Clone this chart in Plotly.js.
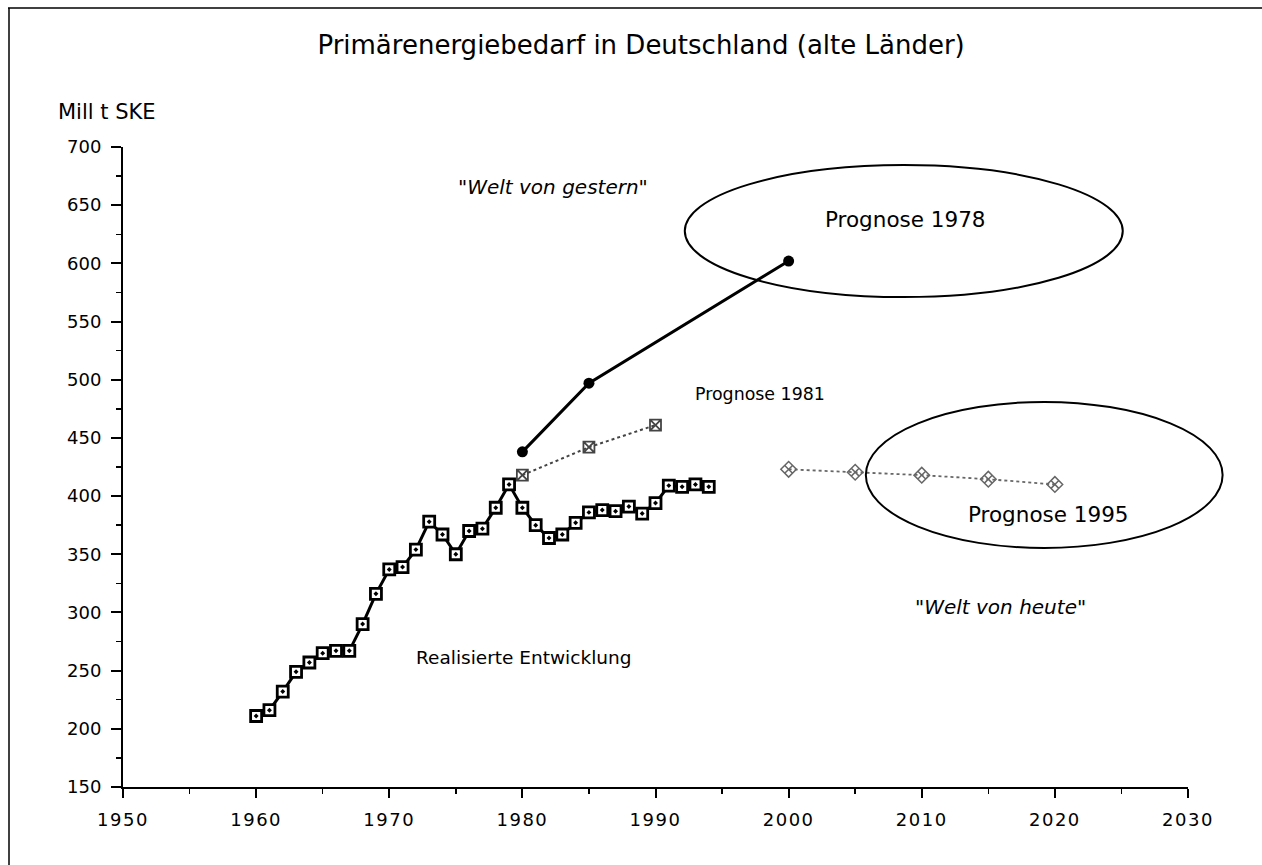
<!DOCTYPE html>
<html>
<head>
<meta charset="utf-8">
<script src="https://cdn.plot.ly/plotly-3.0.1.min.js"></script>
<style>
  html, body { margin: 0; padding: 0; background: #fff; }
  #chart { width: 1262px; height: 865px; }
  .xtick text { letter-spacing: 1.5px; }
</style>
</head>
<body>
<div id="chart"></div>
<script>
// ---- Data (Mill t SKE) ----
const realYears = [1960, 1961, 1962, 1963, 1964, 1965, 1966, 1967, 1968, 1969,
                   1970, 1971, 1972, 1973, 1974, 1975, 1976, 1977, 1978, 1979,
                   1980, 1981, 1982, 1983, 1984, 1985, 1986, 1987, 1988, 1989,
                   1990, 1991, 1992, 1993, 1994];
const realValues = [211, 216, 232, 249, 257, 265, 267, 267, 290, 316,
                    337, 339, 354, 378, 367, 350, 370, 372, 390, 410,
                    390, 375, 364, 367, 377, 386, 388, 387, 391, 385,
                    394, 409, 408, 410, 408];

const p1978Years = [1980, 1985, 2000];
const p1978Values = [438, 497, 602];

const p1981Years = [1980, 1985, 1990];
const p1981Values = [418, 442, 461];

const p1995Years = [2000, 2005, 2010, 2015, 2020];
const p1995Values = [423, 420.5, 418, 414.5, 410];

const xTickVals = [1950, 1960, 1970, 1980, 1990, 2000, 2010, 2020, 2030];
const yTickVals = [150, 200, 250, 300, 350, 400, 450, 500, 550, 600, 650, 700];

// ---- geometry helpers (axis ranges) ----
const X0 = 1950, X1 = 2030, Y0 = 150, Y1 = 700;
const L = 123, R = 74, T = 147, B = 78, W = 1262, H = 865;
const PW = W - L - R, PH = H - T - B;
const xp = v => (v - X0) / (X1 - X0);          // data -> paper
const yp = v => (v - Y0) / (Y1 - Y0);
const pxX = px => (px - L) / PW;                // pixel -> paper
const pxY = py => (H - B - py) / PH;

const FONT = 'DejaVu Sans, Liberation Sans, Arial, sans-serif';

const traces = [
  {
    x: realYears, y: realValues, type: 'scatter', mode: 'lines+markers',
    line: { color: '#000', width: 3 },
    marker: { symbol: 'square-dot', size: 11, color: '#fff',
              line: { color: '#000', width: 2.8 } },
    showlegend: false
  },
  {
    x: p1981Years, y: p1981Values, type: 'scatter', mode: 'lines+markers',
    line: { color: '#444', width: 2, dash: 'dot' },
    marker: { symbol: 'square-x-open', size: 11, color: '#444',
              line: { color: '#444', width: 1.8 } },
    showlegend: false
  },
  {
    x: p1995Years, y: p1995Values, type: 'scatter', mode: 'lines+markers',
    line: { color: '#666', width: 1.8, dash: 'dot' },
    marker: { symbol: 'diamond-x-open', size: 12, color: '#666',
              line: { color: '#666', width: 1.5 } },
    showlegend: false
  },
  {
    x: p1978Years, y: p1978Values, type: 'scatter', mode: 'lines+markers',
    line: { color: '#000', width: 3 },
    marker: { symbol: 'circle', size: 11, color: '#000' },
    showlegend: false
  }
];

const txt = (text, x, y, size, italic) => ({
  text: text, x: x, y: y, xref: 'x', yref: 'y', showarrow: false,
  xanchor: 'center', yanchor: 'middle',
  font: { family: FONT, size: size, color: '#000', style: italic ? 'italic' : 'normal' }
});

const layout = {
  width: W, height: H,
  margin: { l: L, r: R, t: T, b: B, pad: 0 },
  paper_bgcolor: '#fff', plot_bgcolor: '#fff',
  font: { family: FONT, color: '#000', size: 18 },
  title: {
    text: 'Primärenergiebedarf in Deutschland (alte Länder)',
    x: 0.508, xref: 'container', xanchor: 'center',
    y: 1 - 45 / H, yref: 'container', yanchor: 'middle',
    font: { family: FONT, size: 26, color: '#000' }
  },
  xaxis: {
    range: [X0, X1], tickvals: xTickVals, showgrid: false, zeroline: false,
    showline: true, linecolor: '#000', linewidth: 2,
    ticks: 'outside', ticklen: 9, tickwidth: 2, tickcolor: '#000',
    ticklabelstandoff: 6,
    minor: { dtick: 5, ticks: 'outside', ticklen: 5, tickwidth: 1.5, tickcolor: '#000', showgrid: false },
    tickfont: { family: FONT, size: 18, color: '#000' },
    fixedrange: true
  },
  yaxis: {
    range: [Y0, Y1], tickvals: yTickVals, showgrid: false, zeroline: false,
    showline: true, linecolor: '#000', linewidth: 2,
    ticks: 'outside', ticklen: 10, tickwidth: 2, tickcolor: '#000',
    ticklabelstandoff: 6,
    minor: { dtick: 25, ticks: 'outside', ticklen: 5, tickwidth: 1.5, tickcolor: '#000', showgrid: false },
    tickfont: { family: FONT, size: 18, color: '#000' },
    fixedrange: true
  },
  shapes: [
    // ellipse around Prognose 1978
    { type: 'circle', xref: 'paper', yref: 'paper',
      x0: xp(1992.2), x1: xp(2025.1), y0: yp(571), y1: yp(684.5),
      line: { color: '#000', width: 2 } },
    // ellipse around Prognose 1995
    { type: 'circle', xref: 'paper', yref: 'paper',
      x0: xp(2005.8), x1: xp(2032.6), y0: yp(355.4), y1: yp(480.9),
      line: { color: '#000', width: 2 } },
    // frame: top and left edges
    { type: 'line', xref: 'paper', yref: 'paper',
      x0: pxX(8), x1: pxX(1262), y0: pxY(8), y1: pxY(8),
      line: { color: '#000', width: 1.5 } },
    { type: 'line', xref: 'paper', yref: 'paper',
      x0: pxX(9), x1: pxX(9), y0: pxY(8), y1: pxY(866),
      line: { color: '#000', width: 1.5 } }
  ],
  annotations: [
    { text: 'Mill t SKE', xref: 'paper', yref: 'paper', x: pxX(107), y: pxY(112),
      xanchor: 'center', yanchor: 'middle', showarrow: false,
      font: { family: FONT, size: 21, color: '#000' } },
    txt('"Welt von gestern"', 1982.3, 665.6, 20, true),
    txt('Prognose 1978', 2008.8, 637.3, 21.5, false),
    txt('Prognose 1981', 1997.85, 487.7, 17.4, false),
    txt('Prognose 1995', 2019.5, 383.8, 21.5, false),
    txt('"Welt von heute"', 2015.9, 304.7, 20, true),
    txt('Realisierte Entwicklung', 1980.05, 261.7, 18.5, false)
  ]
};

Plotly.newPlot('chart', traces, layout, { displayModeBar: false, staticPlot: true });
</script>
</body>
</html>
